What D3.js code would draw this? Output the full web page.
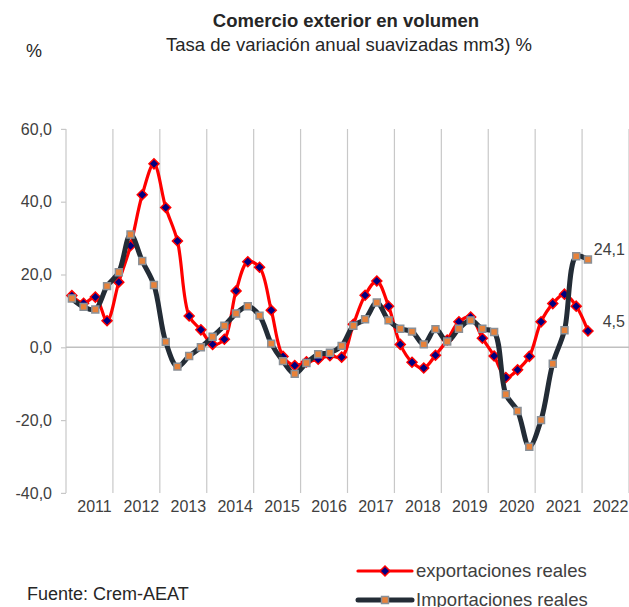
<!DOCTYPE html>
<html>
<head>
<meta charset="utf-8">
<script src="https://cdn.jsdelivr.net/npm/d3@7"></script>
<style>
  body { margin: 0; background: #fff; }
  svg { display: block; font-family: "Liberation Sans", Arial, sans-serif; }
</style>
</head>
<body>
<div id="chart"></div>
<script>
// years shown on the category axis
const years = ['2011', '2012', '2013', '2014', '2015', '2016', '2017', '2018', '2019', '2020', '2021', '2022'];

// quarterly periods, 2011T1 .. 2022T1
const periods = [
  '2011T1', '2011T2', '2011T3', '2011T4', '2012T1', '2012T2', '2012T3', '2012T4',
  '2013T1', '2013T2', '2013T3', '2013T4', '2014T1', '2014T2', '2014T3', '2014T4',
  '2015T1', '2015T2', '2015T3', '2015T4', '2016T1', '2016T2', '2016T3', '2016T4',
  '2017T1', '2017T2', '2017T3', '2017T4', '2018T1', '2018T2', '2018T3', '2018T4',
  '2019T1', '2019T2', '2019T3', '2019T4', '2020T1', '2020T2', '2020T3', '2020T4',
  '2021T1', '2021T2', '2021T3', '2021T4', '2022T1'
];

const exportaciones = [
  14.2, 12.1, 13.8, 7.3, 17.9, 27.9, 41.9, 50.4,
  38.4, 29.2, 8.6, 4.8, 0.8, 2.2, 15.5, 23.5,
  22.0, 10.2, -2.5, -5.0, -4.0, -3.3, -2.3, -2.7,
  6.3, 14.3, 18.2, 11.3, 0.8, -4.1, -5.7, -2.2,
  2.0, 7.0, 8.3, 2.5, -2.4, -8.3, -6.2, -2.5,
  7.0, 12.0, 14.6, 11.3, 4.5
];

const importaciones = [
  13.4, 11.1, 10.4, 16.8, 20.6, 31.0, 23.7, 17.1,
  1.5, -5.3, -2.4, 0.0, 2.9, 5.9, 9.3, 11.3,
  8.7, 1.0, -3.8, -7.3, -4.3, -1.9, -1.5, 0.4,
  5.9, 7.7, 12.3, 7.4, 5.1, 4.3, 0.8, 5.0,
  1.6, 5.1, 7.4, 5.1, 4.2, -12.9, -17.5, -27.3,
  -20.0, -4.5, 4.7, 25.0, 24.1
];

const yTicks = [60, 40, 20, 0, -20, -40];

const width = 629;
const height = 607;
// spanish decimal comma, plain hyphen for negatives
const fmt = v => d3.format('.1f')(v).replace('.', ',').replace('\u2212', '-');

const svg = d3.select('#chart')
  .append('svg')
  .attr('width', width)
  .attr('height', height);

// x in quarter units: each year is 4 slots
const x = d3.scaleLinear()
  .domain([0, years.length * 4])
  .range([66, 629]);

const y = d3.scaleLinear()
  .domain([-40, 60])
  .range([492.9, 128.9]);

const qx = i => x(i + 0.5);

// vertical year gridlines
svg.append('g')
  .selectAll('line')
  .data(d3.range(years.length + 1))
  .enter().append('line')
  .attr('x1', d => x(d * 4))
  .attr('x2', d => x(d * 4))
  .attr('y1', y(60))
  .attr('y2', y(-40))
  .style('stroke', '#c8c8c8')
  .style('stroke-width', 1.2);

// y axis with ticks on the left
const yAxis = svg.append('g')
  .attr('transform', `translate(${x(0)},0)`)
  .call(d3.axisLeft(y).tickValues(yTicks).tickSize(5).tickPadding(9).tickFormat(fmt));
yAxis.select('.domain').remove();
yAxis.selectAll('.tick line').style('stroke', '#c8c8c8').style('stroke-width', 1.2);
yAxis.selectAll('.tick text')
  .style('font-size', '16px')
  .style('fill', '#404040')
  .style('font-family', '"Liberation Sans", Arial, sans-serif');

// zero line
svg.append('line')
  .attr('x1', x(0))
  .attr('x2', x(years.length * 4))
  .attr('y1', y(0))
  .attr('y2', y(0))
  .style('stroke', '#c0c0c0')
  .style('stroke-width', 1.5);

// year labels under the plot
svg.append('g')
  .selectAll('text')
  .data(years)
  .enter().append('text')
  .attr('x', (d, i) => x(i * 4 + 2) + 5)
  .attr('y', y(-40) + 19)
  .attr('text-anchor', 'middle')
  .style('font-size', '16px')
  .style('fill', '#404040')
  .text(d => d);

const line = d3.line()
  .x((d, i) => qx(i))
  .y(d => y(d))
  .curve(d3.curveCatmullRom.alpha(0.5));

// square-ish diamond like the spreadsheet marker
const diamond = () => 'M0,-5L5,0L0,5L-5,0Z';
const square = d3.symbol().type(d3.symbolSquare).size(48);

// exportaciones reales
const expGroup = svg.append('g');
expGroup.append('path')
  .datum(exportaciones)
  .attr('d', line)
  .style('fill', 'none')
  .style('stroke', '#ff0000')
  .style('stroke-width', 3.2);
expGroup.selectAll('.exp-marker')
  .data(exportaciones)
  .enter().append('path')
  .attr('class', 'exp-marker')
  .attr('d', diamond)
  .attr('transform', (d, i) => `translate(${qx(i)},${y(d)})`)
  .style('fill', '#000080')
  .style('stroke', '#ff0000')
  .style('stroke-width', 1.5);

// importaciones reales
const impGroup = svg.append('g');
impGroup.append('path')
  .datum(importaciones)
  .attr('d', line)
  .style('fill', 'none')
  .style('stroke', '#232c36')
  .style('stroke-width', 5);
impGroup.selectAll('.imp-marker')
  .data(importaciones)
  .enter().append('path')
  .attr('class', 'imp-marker')
  .attr('d', square)
  .attr('transform', (d, i) => `translate(${qx(i)},${y(d)})`)
  .style('fill', '#e8823a')
  .style('stroke', '#8a9097')
  .style('stroke-width', 1.5);

// last-value labels
const lastI = periods.length - 1;
svg.append('text')
  .attr('x', qx(lastI) + 37)
  .attr('y', y(importaciones[lastI]) - 10)
  .attr('dy', '0.35em')
  .attr('text-anchor', 'end')
  .style('font-size', '16px')
  .style('fill', '#404040')
  .text(fmt(importaciones[lastI]));
svg.append('text')
  .attr('x', qx(lastI) + 37)
  .attr('y', y(exportaciones[lastI]) - 10)
  .attr('dy', '0.35em')
  .attr('text-anchor', 'end')
  .style('font-size', '16px')
  .style('fill', '#404040')
  .text(fmt(exportaciones[lastI]));

// titles
svg.append('text')
  .attr('x', 346)
  .attr('y', 27)
  .attr('text-anchor', 'middle')
  .style('font-size', '18.5px')
  .style('font-weight', 'bold')
  .style('fill', '#262626')
  .text('Comercio exterior en volumen');
svg.append('text')
  .attr('x', 349)
  .attr('y', 51)
  .attr('text-anchor', 'middle')
  .style('font-size', '18.5px')
  .style('fill', '#262626')
  .text('Tasa de variación anual suavizadas mm3) %');
svg.append('text')
  .attr('x', 26)
  .attr('y', 57)
  .style('font-size', '18px')
  .style('fill', '#262626')
  .text('%');

// source
svg.append('text')
  .attr('x', 27)
  .attr('y', 600)
  .style('font-size', '18px')
  .style('fill', '#262626')
  .text('Fuente: Crem-AEAT');

// legend
const legendItems = [
  {name: 'exportaciones reales', color: '#ff0000', width: 3.2, marker: diamond, fill: '#000080', stroke: '#ff0000'},
  {name: 'Importaciones reales', color: '#232c36', width: 5, marker: square, fill: '#e8823a', stroke: '#8a9097'}
];
const legend = svg.append('g')
  .selectAll('g')
  .data(legendItems)
  .enter().append('g')
  .attr('transform', (d, i) => `translate(358,${571 + i * 29})`);
legend.append('line')
  .attr('x1', 0)
  .attr('x2', 54)
  .style('stroke', d => d.color)
  .style('stroke-width', d => d.width)
  .style('stroke-linecap', 'round');
legend.append('path')
  .attr('d', d => d.marker())
  .attr('transform', 'translate(27,0)')
  .style('fill', d => d.fill)
  .style('stroke', d => d.stroke)
  .style('stroke-width', 1.5);
legend.append('text')
  .attr('x', 58)
  .attr('dy', '0.35em')
  .style('font-size', '18.5px')
  .style('fill', '#404040')
  .text(d => d.name);
</script>
</body>
</html>
